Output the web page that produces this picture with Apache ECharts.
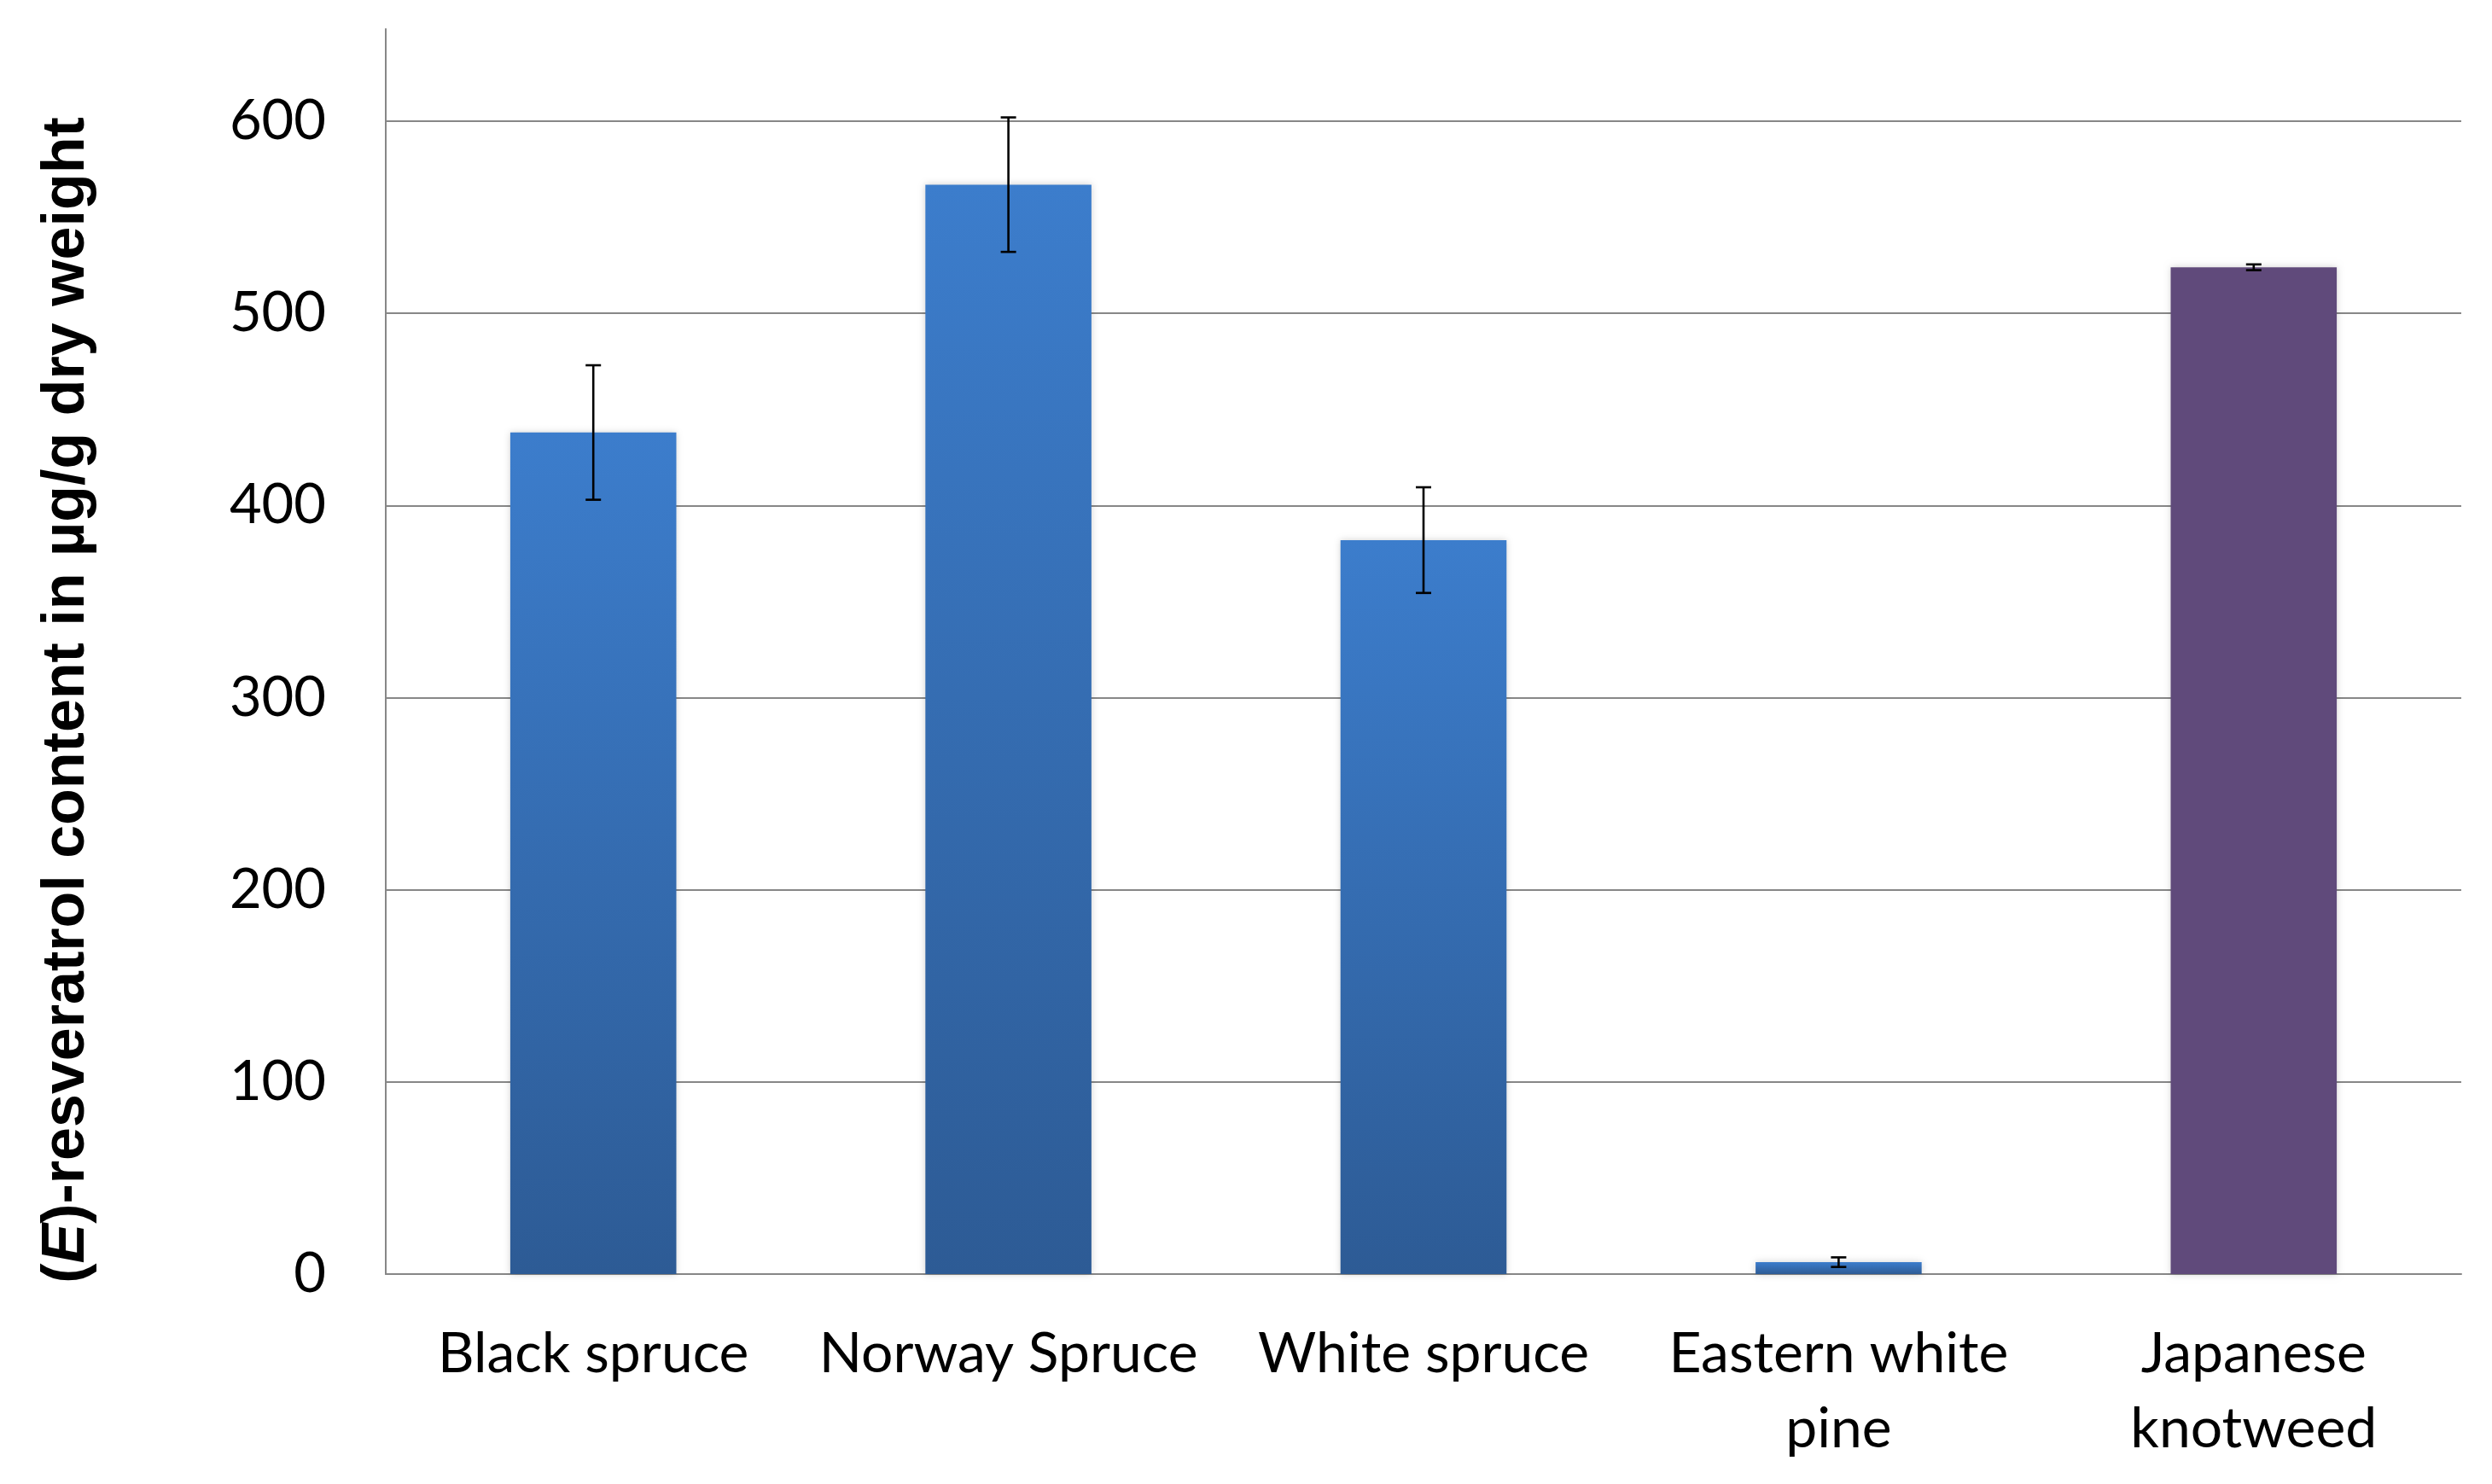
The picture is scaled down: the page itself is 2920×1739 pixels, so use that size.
<!DOCTYPE html>
<html>
<head>
<meta charset="utf-8">
<script src="https://cdn.jsdelivr.net/npm/echarts@6/dist/echarts.min.js"></script>
<style>html,body{margin:0;padding:0;background:#fff}#c{width:2920px;height:1739px}</style>
</head>
<body>
<div id="c"></div>
<script>
const categories = ['Black spruce', 'Norway Spruce', 'White spruce', 'Eastern white\npine', 'Japanese\nknotweed'];
const values = [438, 567, 382, 6.2, 524];
const errors = [35, 35, 27.5, 2.5, 1.5];
const yTicks = [0, 100, 200, 300, 400, 500, 600];

const blueGrad = new echarts.graphic.LinearGradient(0, 0, 0, 1, [
  {offset: 0, color: '#3C7DCC'},
  {offset: 1, color: '#2D5B95'}
]);
const purple = '#604A7B';

const chart = echarts.init(document.getElementById('c'), null, {renderer: 'canvas'});
chart.setOption({
  animation: false,
  backgroundColor: '#fff',
  grid: {left: 452, right: 36, top: 34, bottom: 246},
  xAxis: {
    type: 'category',
    data: categories,
    axisLine: {show: true, lineStyle: {color: '#878787', width: 2}},
    axisTick: {show: false},
    axisLabel: {interval: 0, fontFamily: 'Lato', fontSize: 66, lineHeight: 88, color: '#000', margin: 50}
  },
  yAxis: {
    type: 'value',
    min: 0, max: 648, interval: 100,
    axisLine: {show: true, lineStyle: {color: '#878787', width: 2}},
    axisTick: {show: false},
    splitLine: {show: true, showMaxLine: false, lineStyle: {color: '#878787', width: 2}},
    axisLabel: {
      fontFamily: 'Lato', fontSize: 65, color: '#000', margin: 70,
      showMaxLabel: false,
      formatter: v => yTicks.includes(v) ? String(v) : ''
    },
    name: '({i|E})-resveratrol content in µg/g dry weight',
    nameLocation: 'middle',
    nameGap: 338,
    nameTextStyle: {
      fontFamily: 'Liberation Sans', fontWeight: 'bold', fontSize: 70, color: '#000',
      padding: [0, 114, 0, 0],
      rich: {i: {fontFamily: 'Liberation Sans', fontWeight: 'bold', fontStyle: 'italic', fontSize: 70, color: '#000'}}
    }
  },
  series: [
    {
      type: 'bar',
      barWidth: '40%',
      z: 2,
      data: values.map((v, i) => ({
        value: v,
        itemStyle: {color: i === 4 ? purple : blueGrad, shadowBlur: 8, shadowColor: 'rgba(0,0,0,0.18)'}
      }))
    },
    {
      type: 'custom',
      z: 5,
      data: values.map((v, i) => [i, v - errors[i], v + errors[i]]),
      renderItem: function (params, api) {
        const x = api.value(0);
        const top = api.coord([x, api.value(2)]);
        const bot = api.coord([x, api.value(1)]);
        const hw = 9;
        const st = {stroke: '#000', lineWidth: 2.6};
        return {
          type: 'group',
          children: [
            {type: 'line', shape: {x1: top[0], y1: top[1], x2: bot[0], y2: bot[1]}, style: st},
            {type: 'line', shape: {x1: top[0] - hw, y1: top[1], x2: top[0] + hw, y2: top[1]}, style: st},
            {type: 'line', shape: {x1: bot[0] - hw, y1: bot[1], x2: bot[0] + hw, y2: bot[1]}, style: st}
          ]
        };
      }
    }
  ]
});
</script>
</body>
</html>
